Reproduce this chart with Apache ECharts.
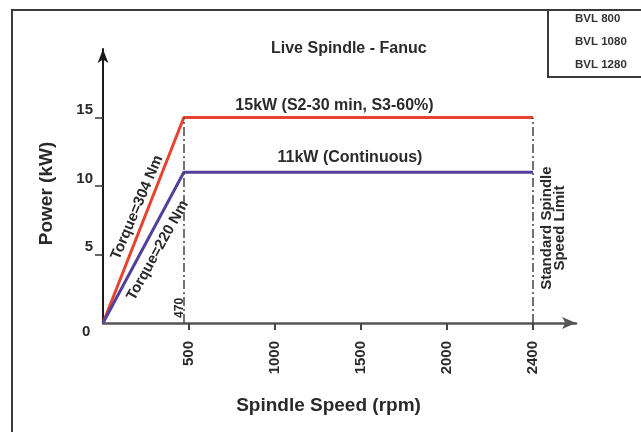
<!DOCTYPE html>
<html>
<head>
<meta charset="utf-8">
<script src="https://cdn.jsdelivr.net/npm/echarts@6/dist/echarts.min.js"></script>
<style>
  html, body { margin: 0; padding: 0; background: #fff; }
  #chart { width: 641px; height: 432px; }
</style>
</head>
<body>
<div id="chart"></div>
<script>
// spindle speed (rpm) at the corners of the curves; the "2400" limit is drawn on the 5th tick slot
const speeds = [0, 470, 2500];
const peakPower = [0, 15, 15];     // 15kW S2-30 min
const contPower = [0, 11, 11];     // 11kW continuous
const cornerSpeed = 470;
const limitSpeed = 2500;

const xTickValues = [500, 1000, 1500, 2000, 2500];
const xTickLabels = ['500', '1000', '1500', '2000', '2400'];
const yTickValues = [5, 10, 15];
const models = ['BVL 800', 'BVL 1080', 'BVL 1280'];

const font = '"Liberation Sans", Arial, sans-serif';
const textColor = '#2a2a2a';

function pairs(xs, ys) {
    return xs.map((x, i) => [x, ys[i]]);
}

function note(coord, text, size, rotate, extra) {
    return {
        coord: coord,
        symbolSize: 0,
        label: Object.assign({
            show: true,
            position: 'inside',
            formatter: text,
            rotate: rotate,
            fontSize: size,
            fontFamily: font,
            fontWeight: 'bold',
            color: textColor
        }, extra || {})
    };
}

const chart = echarts.init(document.getElementById('chart'));

const option = {
    animation: false,
    backgroundColor: '#fff',
    title: {
        text: 'Live Spindle - Fanuc',
        left: 266,
        top: 36,
        textStyle: { fontSize: 16, fontFamily: font, fontWeight: 'bold', color: textColor }
    },
    grid: { left: 103, right: 65, top: 49, bottom: 109 },
    xAxis: {
        type: 'value',
        min: 0,
        max: 2750,
        name: 'Spindle Speed (rpm)',
        nameLocation: 'middle',
        nameGap: 73,
        nameTextStyle: { fontSize: 19, fontFamily: font, fontWeight: 'bold', color: textColor, padding: [0, 22, 0, 0] },
        splitLine: { show: false },
        axisLine: { lineStyle: { color: '#555', width: 2.5 }, symbol: ['none', 'arrow'], symbolSize: [9, 14] },
        axisTick: { customValues: xTickValues, length: 7, lineStyle: { color: '#444', width: 2 } },
        axisLabel: {
            customValues: xTickValues,
            rotate: 90,
            margin: 18,
            fontSize: 15,
            fontFamily: font,
            fontWeight: 'bold',
            color: textColor,
            formatter: v => xTickLabels[xTickValues.indexOf(v)]
        }
    },
    yAxis: {
        type: 'value',
        min: 0,
        max: 20,
        name: 'Power (kW)',
        nameLocation: 'middle',
        nameGap: 47,
        nameRotate: 90,
        nameTextStyle: { fontSize: 19, fontFamily: font, fontWeight: 'bold', color: textColor, padding: [0, 15, 0, 0] },
        splitLine: { show: false },
        axisLine: { lineStyle: { color: '#1a1a1a', width: 2 }, symbol: ['none', 'arrow'], symbolSize: [8, 14] },
        axisTick: { customValues: yTickValues, length: 8, lineStyle: { color: '#333', width: 1.5 } },
        axisLabel: {
            customValues: yTickValues,
            margin: 10,
            verticalAlign: 'bottom',
            fontSize: 15,
            fontFamily: font,
            fontWeight: 'bold',
            color: textColor
        }
    },
    series: [
        {
            name: '15kW',
            type: 'line',
            data: pairs(speeds, peakPower),
            symbol: 'none',
            lineStyle: { color: '#e8432f', width: 3 },
            markLine: {
                symbol: 'none',
                silent: true,
                label: { show: false },
                lineStyle: { color: '#444', width: 1.5, type: [9, 3, 2, 3] },
                data: [
                    [{ coord: [cornerSpeed, 0] }, { coord: [cornerSpeed, 15] }],
                    [{ coord: [limitSpeed, 0] }, { coord: [limitSpeed, 15] }]
                ]
            },
            markPoint: {
                silent: true,
                data: [
                    note([1346, 15.84], '15kW (S2-30 min, S3-60%)', 16, 0),
                    note([198, 8.43], 'Torque=304 Nm', 15, 67),
                    note([443, 1.1], '470', 12, 90),
                    note([2619, 6.93], 'Standard Spindle\nSpeed Limit', 15, 90, { lineHeight: 13 })
                ]
            }
        },
        {
            name: '11kW',
            type: 'line',
            data: pairs(speeds, contPower),
            symbol: 'none',
            lineStyle: { color: '#52409c', width: 3 },
            markPoint: {
                silent: true,
                data: [
                    note([1436, 12.04], '11kW (Continuous)', 16, 0),
                    note([318, 5.3], 'Torque=220 Nm', 15, 61)
                ]
            }
        }
    ],
    graphic: [
        {
            type: 'rect',
            shape: { x: 12, y: 10, width: 700, height: 500 },
            style: { fill: 'none', stroke: '#3a3a3a', lineWidth: 2 }
        },
        {
            type: 'rect',
            shape: { x: 548, y: 10, width: 120, height: 67 },
            style: { fill: '#fff', stroke: '#3a3a3a', lineWidth: 2 }
        },
        {
            type: 'text',
            left: 82,
            top: 324,
            style: { text: '0', fontSize: 15, fontFamily: font, fontWeight: 'bold', fill: textColor }
        }
    ].concat(models.map((m, i) => ({
        type: 'text',
        left: 575,
        top: 13 + i * 23,
        style: { text: m, fontSize: 11.5, fontFamily: font, fontWeight: 'bold', fill: '#333' }
    })))
};

chart.setOption(option);
</script>
</body>
</html>
